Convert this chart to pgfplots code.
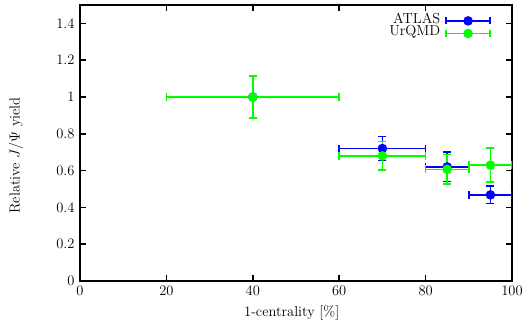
\RequirePackage{fix-cm}
\documentclass[border=0pt]{standalone}
\usepackage{pgfplots}
\pgfplotsset{compat=1.18}
\begin{document}
\begin{tikzpicture}
\begin{axis}[
  name=main,
  scale only axis,
  width=432pt, height=276pt,
  xmin=0, xmax=100, ymin=0, ymax=1.5,
  xtick={0,20,...,100}, ytick={0,0.2,...,1.4},
  xticklabel={\fontsize{14.5}{16}\selectfont\pgfmathprintnumber{\tick}},
  yticklabel={\fontsize{14.5}{16}\selectfont\pgfmathprintnumber[fixed,precision=1]{\tick}},
  xticklabel style={yshift=-2pt},
  yticklabel style={xshift=-2pt},
  tick align=inside,
  major tick length=6pt,
  axis line style={line width=1.5pt},
  tick style={line width=1.5pt, black},
  xlabel={1-centrality [\%]},
  ylabel={Relative $J/\Psi$ yield},
  every axis x label/.style={at={(axis description cs:0.49,-0.127)}, anchor=base, font=\fontsize{14.5}{16}\selectfont},
  every axis y label/.style={at={(axis description cs:-0.148,0.455)}, rotate=90, anchor=center, font=\fontsize{14.5}{16}\selectfont},
  legend plot pos=right,
  legend cell align=right,
  legend style={draw=none, fill=none, at={(axis description cs:0.951,0.965)}, anchor=north east,
    inner sep=0pt, outer sep=0pt, row sep=0pt, column sep=5pt,
    nodes={inner sep=0pt, text height=8.5pt, text depth=4pt}, font=\fontsize{14.5}{15}\selectfont},
  legend image code/.code={
    \draw[#1, line width=1.5pt] (0pt,0pt) -- (44pt,0pt);
    \draw[#1, line width=1.5pt] (0pt,-3.5pt) -- (0pt,3.5pt);
    \draw[#1, line width=1.5pt] (44pt,-3.5pt) -- (44pt,3.5pt);
    \fill[#1] (22pt,0pt) circle (4pt);
  },
  clip=true,
]
\addplot[blue, line width=1.5pt, only marks, mark=*, mark size=4pt,
  error bars/.cd, x dir=both, x explicit, y dir=both, y explicit,
  error bar style={line width=1.5pt}, error mark options={line width=1.5pt, mark size=4pt, rotate=90}]
  table[x=x, y=y, x error=ex, y error=ey] {
x y ex ey
40 1.0 20 0.115
70 0.72 10 0.065
85 0.62 5 0.08
95 0.468 5 0.047
};
\addlegendentry{ATLAS}
\addplot[green, line width=1.5pt, only marks, mark=*, mark size=4pt,
  error bars/.cd, x dir=both, x explicit, y dir=both, y explicit,
  error bar style={line width=1.5pt}, error mark options={line width=1.5pt, mark size=4pt, rotate=90}]
  table[x=x, y=y, x error=ex, y error=ey] {
x y ex ey
40 1.0 20 0.115
70 0.68 10 0.078
85 0.607 5 0.08
95 0.63 5 0.092
};
\addlegendentry{UrQMD}
\end{axis}
\pgfresetboundingbox
\path[use as bounding box] ([shift={(-80pt,-41pt)}]main.south west) rectangle ([shift={(12pt,5pt)}]main.north east);
\end{tikzpicture}
\end{document}
